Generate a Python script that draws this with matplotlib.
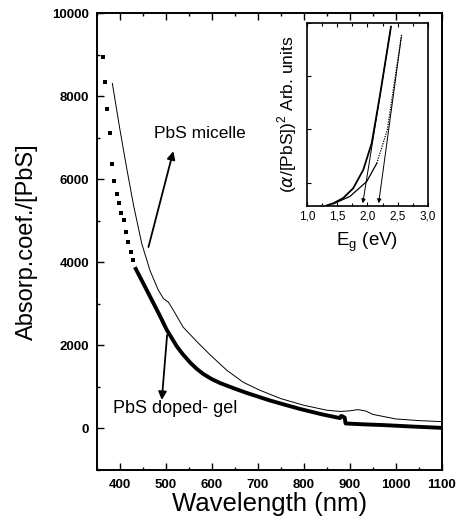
import matplotlib
matplotlib.use("Agg")
import matplotlib.pyplot as plt
from matplotlib.ticker import MultipleLocator, FuncFormatter

plt.rcParams['font.family'] = ['Liberation Sans', 'DejaVu Sans']

# ---- Main chart data ----
gel_sparse_wl = [363, 369, 373, 379, 383, 388, 393.5, 398, 403.5, 408.7, 413.7, 418.7, 424, 429]
gel_sparse_val = [8938, 8349, 7683, 7128, 6371, 5970, 5656, 5439, 5198, 5029, 4730, 4498, 4240, 4064]

gel_dense_wl = [433, 451, 470, 488, 502, 524, 537, 553, 567, 582, 600, 618, 650, 675, 700, 725, 750,
                792, 840, 879, 881, 885, 889, 891, 930, 973, 1030, 1100]
gel_dense_val = [3885, 3500, 3090, 2700, 2380, 1980, 1790, 1590, 1440, 1310, 1190, 1095, 960, 860, 770,
                 680, 600, 470, 340, 250, 300, 290, 260, 121, 100, 82, 50, 15]

micelle_wl = [384, 400, 415, 430, 448, 466, 484, 495, 506, 517, 538, 567, 596, 633, 669, 705, 750,
              800, 850, 880, 900, 918, 935, 950, 1000, 1050, 1100]
micelle_val = [8310, 7230, 6280, 5380, 4450, 3800, 3330, 3130, 3040, 2840, 2440, 2100, 1780, 1400,
               1110, 920, 720, 560, 440, 410, 425, 455, 420, 340, 230, 190, 165]

x_ticks = [400, 500, 600, 700, 800, 900, 1000, 1100]
y_ticks = [0, 2000, 4000, 6000, 8000, 10000]

# ---- Inset data ----
inset_c1_e = [1.322, 1.432, 1.598, 1.764, 1.930, 2.070, 2.208, 2.390]
inset_c1_u = [-0.43, -0.39, -0.29, -0.105, 0.24, 0.74, 1.645, 2.93]
inset_c2_solid_e = [1.432, 1.709, 1.987, 2.153]
inset_c2_solid_u = [-0.40, -0.26, 0.02, 0.36]
inset_c2_dot_e = [2.153, 2.329, 2.44, 2.568]
inset_c2_dot_u = [0.36, 0.99, 1.83, 2.79]
tangent_a_e = [2.390, 1.914]
tangent_a_u = [2.93, -0.44]
tangent_b_e = [2.568, 2.179]
tangent_b_u = [2.79, -0.44]
inset_x_ticks = [1.0, 1.5, 2.0, 2.5, 3.0]

fig = plt.figure(figsize=(4.57, 5.22), dpi=100)
ax = fig.add_axes([0.2116, 0.0996, 0.755, 0.875])

ax.plot(micelle_wl, micelle_val, color='black', lw=0.7)
ax.plot(gel_dense_wl, gel_dense_val, color='black', lw=2.8, solid_capstyle='butt')
ax.plot(gel_sparse_wl, gel_sparse_val, 'ks', ms=2.4, mew=0)

ax.set_xlim(350, 1100)
ax.set_ylim(-1000, 10000)
ax.set_xticks(x_ticks)
ax.set_yticks(y_ticks)
ax.xaxis.set_minor_locator(MultipleLocator(50))
ax.yaxis.set_minor_locator(MultipleLocator(1000))
ax.tick_params(which='both', direction='in', top=True, right=False, labelsize=9.5, width=1.0)
ax.tick_params(which='major', length=4.8)
ax.tick_params(which='minor', length=2.4)
ax.tick_params(axis='x', pad=6.5)
ax.tick_params(axis='y', pad=5.5)
for lab in ax.get_xticklabels() + ax.get_yticklabels():
    lab.set_fontweight('bold')
for s in ax.spines.values():
    s.set_linewidth(1.4)
ax.set_xlabel('Wavelength (nm)', fontsize=18.5, labelpad=1)
ax.set_ylabel('Absorp.coef./[PbS]', fontsize=17, labelpad=10)

# annotations
ax.annotate('', xy=(518, 6742), xytext=(461, 4305),
            arrowprops=dict(arrowstyle='-|>', color='black', lw=1.3, mutation_scale=12))
ax.text(474, 7110, 'PbS micelle', fontsize=12.5, va='center', ha='left')
ax.annotate('', xy=(491, 620), xytext=(503.5, 2317),
            arrowprops=dict(arrowstyle='-|>', color='black', lw=1.3, mutation_scale=12))
ax.text(386, 475, 'PbS doped- gel', fontsize=13, va='center', ha='left')

# ---- Inset ----
ins = fig.add_axes([0.6724, 0.6054, 0.2635, 0.3506])
ins.plot(inset_c1_e, inset_c1_u, color='black', lw=1.3)
ins.plot(inset_c2_solid_e, inset_c2_solid_u, color='black', lw=0.9)
ins.plot(inset_c2_dot_e, inset_c2_dot_u, color='black', lw=0.9, ls=(0, (1, 1)))
ins.annotate('', xy=(tangent_a_e[1], tangent_a_u[1]), xytext=(tangent_a_e[0], tangent_a_u[0]),
             arrowprops=dict(arrowstyle='-|>', color='black', lw=0.7, mutation_scale=6))
ins.annotate('', xy=(tangent_b_e[1], tangent_b_u[1]), xytext=(tangent_b_e[0], tangent_b_u[0]),
             arrowprops=dict(arrowstyle='-|>', color='black', lw=0.7, mutation_scale=6))
ins.set_xlim(1.0, 3.0)
ins.set_ylim(-0.44, 3.0)
ins.set_xticks(inset_x_ticks)
ins.xaxis.set_major_formatter(FuncFormatter(lambda v, p: f'{v:.1f}'.replace('.', ',')))
ins.xaxis.set_minor_locator(MultipleLocator(0.25))
ins.set_yticks([0, 1, 2, 3])
ins.set_yticklabels([])
ins.tick_params(which='both', direction='in', top=True, right=False, labelsize=8.5, pad=3, width=0.8)
ins.tick_params(which='major', length=3)
ins.tick_params(which='minor', length=2)
for s in ins.spines.values():
    s.set_linewidth(1.2)
ins.set_xlabel('E$_\\mathregular{g}$ (eV)', fontsize=13.5, labelpad=6)
ins.set_ylabel('($\\alpha$/[PbS])$^\\mathregular{2}$ Arb. units', fontsize=12.5, labelpad=3)

fig.savefig('out.png', dpi=100)
